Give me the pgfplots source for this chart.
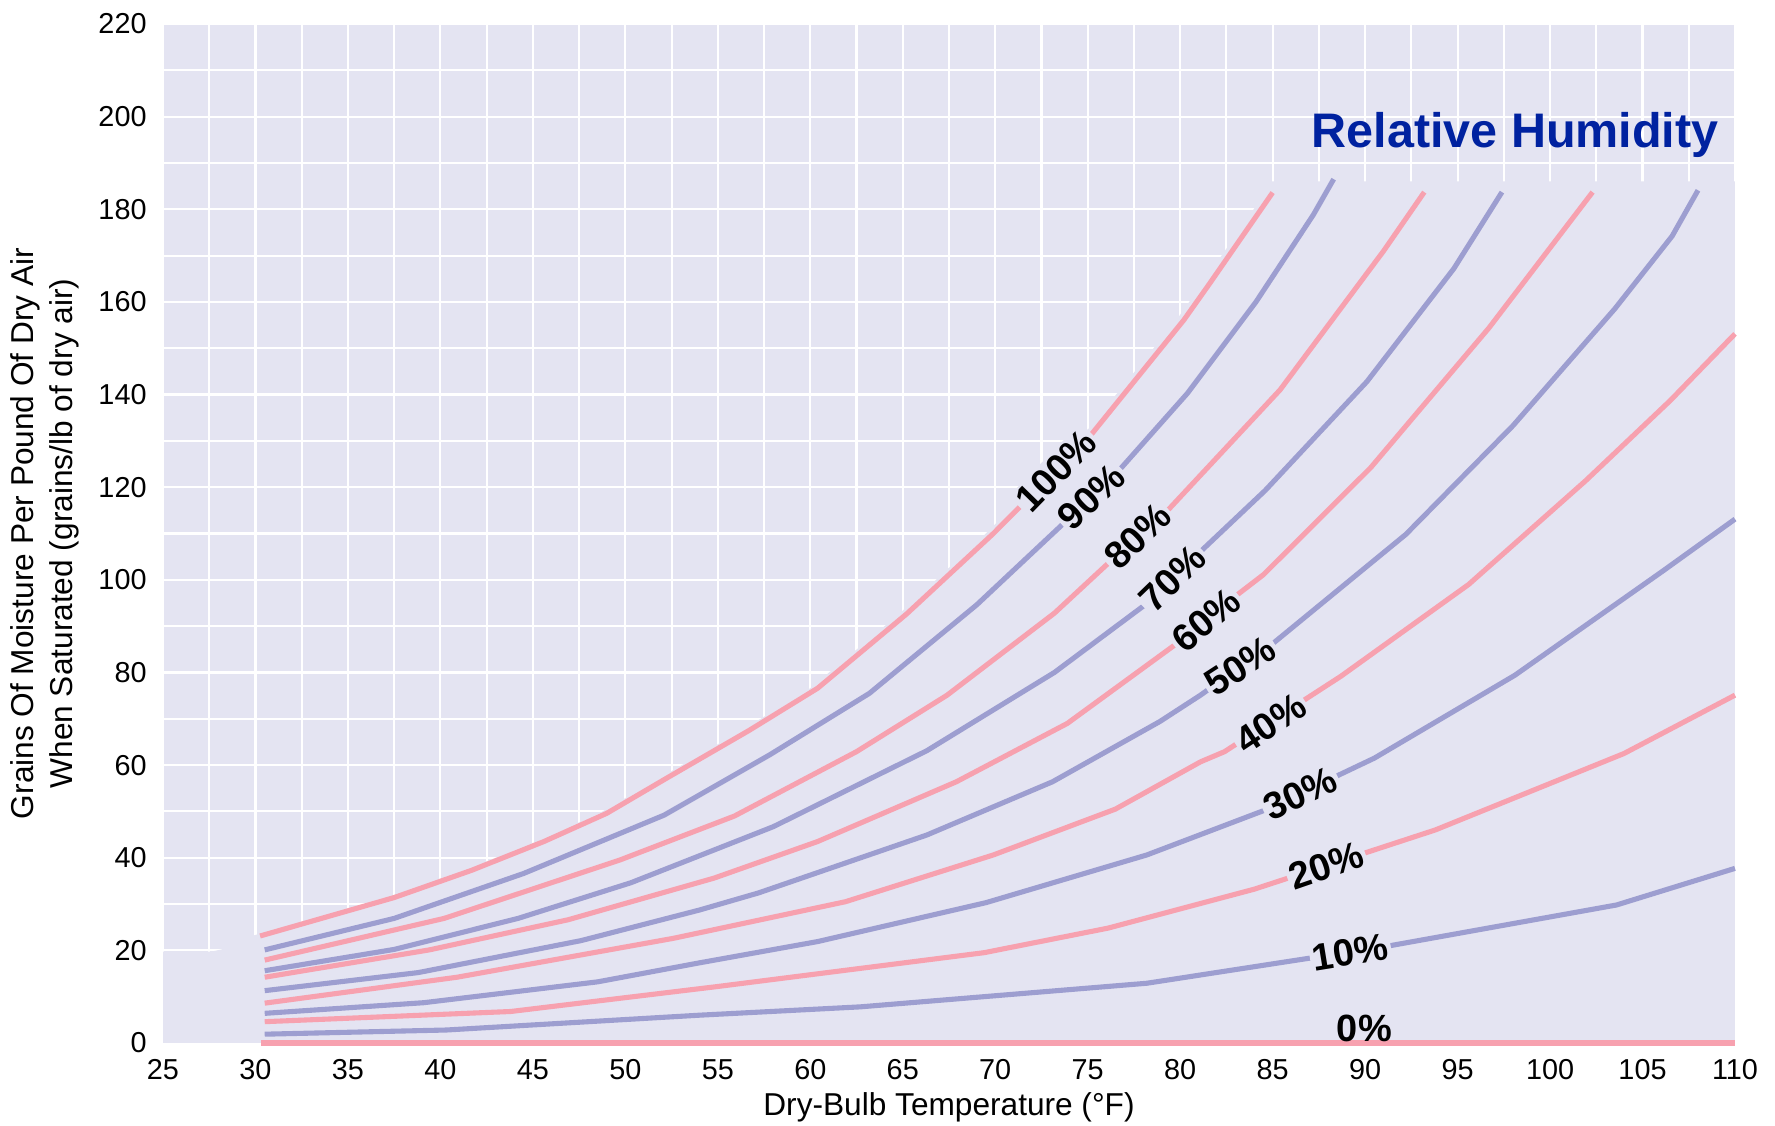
\documentclass[border=0pt]{standalone}
\usepackage{fontspec}
\setmainfont{Liberation Sans}
\usepackage{pgfplots}
\pgfplotsset{compat=1.18}
\definecolor{bg}{HTML}{E4E4F2}
\definecolor{pk}{HTML}{F7A1AF}
\definecolor{bl}{HTML}{9D9ED0}
\definecolor{tb}{HTML}{0022A0}
\begin{document}
\begin{tikzpicture}
\path[use as bounding box] (0,0) rectangle (17.75,11.26);
\begin{axis}[
  at={(1.63cm,0.83cm)}, anchor=south west,
  scale only axis, width=15.72cm, height=10.19cm,
  xmin=25, xmax=110, ymin=0, ymax=220,
  xtick={25,30,...,110}, ytick={0,20,...,220},
  minor x tick num=1, minor y tick num=1,
  grid=both,
  major grid style={white, line width=0.6pt},
  minor grid style={white, line width=0.6pt},
  axis line style={draw=none},
  major tick length=0pt, minor tick length=0pt,
  axis background/.style={fill=bg},
  clip=false,
  /pgf/number format/assume math mode=true,
  tick label style={font=\fontsize{8.2}{9}\selectfont},
  xticklabel style={yshift=-0.4mm},
  yticklabel style={xshift=-0.4mm},
  xlabel={Dry-Bulb Temperature (°F)},
  ylabel={Grains Of Moisture Per Pound Of Dry Air\\When Saturated (grains/lb of dry air)},
  every axis x label/.style={at={(axis description cs:0.5,-0.0628)}, anchor=center, font=\fontsize{9}{11}\selectfont},
  every axis y label/.style={at={(axis description cs:-0.075,0.5)}, anchor=center, rotate=90, align=center, font=\fontsize{9}{11.1}\selectfont},
]
% region without grid lines
\addplot[fill=bg, draw=none] coordinates {(25,0) (25,19.7) (27.6,19.7) (29.6,21.5) (29.8,23.1) (37.1,31.4) (41.3,37.3) (45.2,43.5) (48.6,49.6) (51.8,57.1) (56.3,67.5) (60.0,76.6) (64.8,92.6) (69.5,110) (74.7,130.9) (79.8,156.1) (81.2,164) (84.6,183.6) (84.8,186) (110,186) (110,0)};
% 0%
\addplot[pk, line width=1.45pt] coordinates {(30.3,0) (110,0)};
% 10%
\addplot[bl, line width=1.45pt] coordinates {(30.5,1.9) (40.3,2.8) (54.0,6.0) (62.7,7.8) (78.2,12.9) (91.2,20.9) (103.6,29.8) (110,37.7)};
% 20%
\addplot[pk, line width=1.45pt] coordinates {(30.5,4.6) (43.8,6.8) (55,12.2) (69.4,19.5) (76.1,24.8) (84.0,33.2) (93.8,46.0) (104.0,62.5) (110,75.1)};
% 30%
\addplot[bl, line width=1.45pt] coordinates {(30.5,6.4) (39.1,8.7) (48.5,13.2) (54.0,17.3) (60.4,21.9) (69.5,30.3) (78.2,40.6) (84.6,50.3) (90.5,61.5) (98.1,79.4) (106.1,101.9) (110,113.1)};
% 40%
\addplot[pk, line width=1.45pt] coordinates {(30.5,8.6) (40.9,14.2) (52.6,22.6) (61.9,30.5) (69.9,40.6) (76.5,50.5) (81.1,60.7) (82.4,62.9) (88.7,79.2) (95.6,99.0) (101.9,121.3) (106.5,138.7) (110,153.1)};
% 50%
\addplot[bl, line width=1.45pt] coordinates {(30.5,11.3) (38.8,15.2) (47.6,22.1) (54.0,28.7) (57.2,32.4) (66.3,44.9) (73.1,56.4) (78.9,69.4) (81.1,75.1) (85.0,86.2) (92.2,109.8) (98.0,133.3) (103.5,158.5) (106.6,174.2) (108.0,184.1)};
% 60%
\addplot[pk, line width=1.45pt] coordinates {(30.5,14.2) (39.4,20.1) (46.9,26.6) (54.8,35.6) (60.4,43.5) (67.9,56.4) (73.9,69.0) (79.8,86.2) (83.0,96.5) (84.5,101.1) (90.3,124.2) (96.7,154.4) (102.3,183.7)};
% 70%
\addplot[bl, line width=1.45pt] coordinates {(30.5,15.6) (37.5,20.2) (44.2,26.9) (50.3,34.6) (58.0,46.7) (66.3,63.1) (73.2,80.0) (78.1,94.6) (81.1,106.1) (84.6,119.3) (90.1,142.8) (94.8,167.2) (97.4,183.7)};
% 80%
\addplot[pk, line width=1.45pt] coordinates {(30.5,17.9) (40.2,26.9) (49.7,39.5) (55.9,49.0) (62.5,62.9) (67.4,75.1) (73.2,92.8) (76.2,103.9) (79.4,115.3) (85.4,141.0) (91.0,171.0) (93.2,183.7)};
% 90%
\addplot[bl, line width=1.45pt] coordinates {(30.5,20.1) (37.5,26.9) (44.5,36.6) (52.1,49.2) (57.8,62.2) (63.2,75.5) (69.0,94.6) (73.7,112.2) (76.8,124.1) (80.4,140.3) (84.1,160.0) (87.2,178.8) (88.3,186.5)};
% 100%
\addplot[pk, line width=1.45pt] coordinates {(30.25,23.1) (37.5,31.4) (41.7,37.3) (45.6,43.5) (49.0,49.6) (52.2,57.1) (56.7,67.5) (60.4,76.6) (65.2,92.6) (69.9,110) (75.1,130.9) (80.2,156.1) (81.6,164) (85.0,183.6)};
% labels
\tikzset{rh/.style={fill=bg, inner sep=0.8pt, font=\bfseries\fontsize{10.8}{12}\selectfont}}
\node[rh, rotate=45.7] at (axis cs:73.3,123.5) {100\%};
\node[rh, rotate=43.5] at (axis cs:75.2,118.0) {90\%};
\node[rh, rotate=43.6] at (axis cs:77.7,109.4) {80\%};
\node[rh, rotate=44.0] at (axis cs:79.6,100.3) {70\%};
\node[rh, rotate=39.6] at (axis cs:81.4,91.3) {60\%};
\node[rh, rotate=32.9] at (axis cs:83.25,81.4) {50\%};
\node[rh, rotate=33.6] at (axis cs:84.9,69.0) {40\%};
\node[rh, rotate=25.2] at (axis cs:86.5,53.9) {30\%};
\node[rh, rotate=19.0] at (axis cs:87.9,38.3) {20\%};
\node[rh, rotate=9.3] at (axis cs:89.2,19.6) {10\%};
\node[anchor=base, inner sep=0pt, font=\bfseries\fontsize{10.8}{12}\selectfont] at (axis cs:89.96,0.3) {0\%};
\node[anchor=base east, inner sep=0pt, text=tb, font=\bfseries\fontsize{13.8}{16}\selectfont] at (axis cs:109.15,193.4) {Relative Humidity};
\end{axis}
\end{tikzpicture}
\end{document}
